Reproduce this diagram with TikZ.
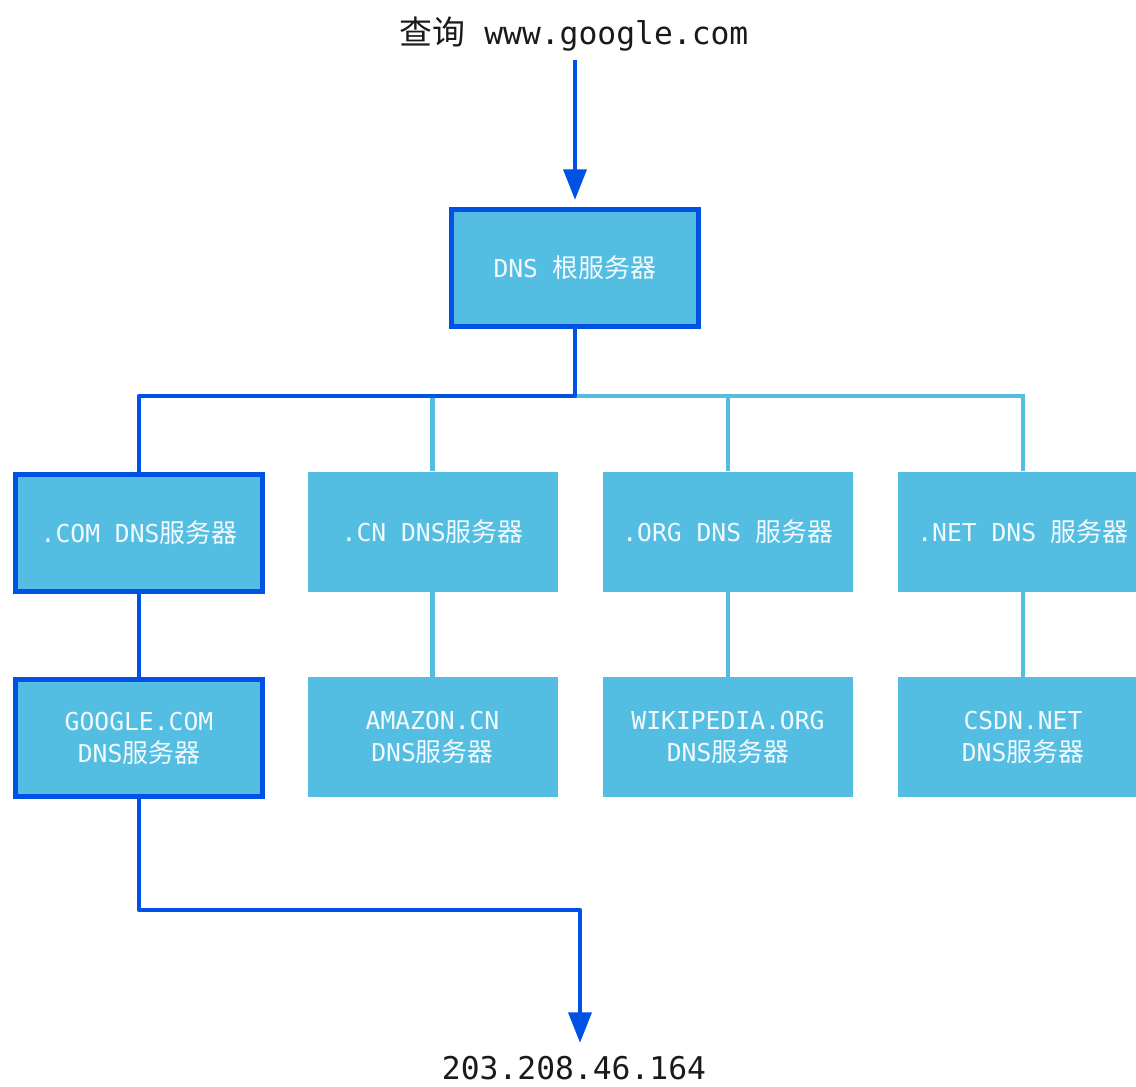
\documentclass[tikz,border=0pt]{standalone}
\usepackage{fontspec}
\setmonofont{DejaVu Sans Mono}
\newfontfamily\cjk[Scale=1.05]{Noto Sans CJK SC}
\usetikzlibrary{arrows.meta}
\definecolor{boxfill}{HTML}{53BDE2}
\definecolor{darkblue}{HTML}{0052E5}
\definecolor{boxtext}{HTML}{F2FAFD}
\definecolor{ink}{HTML}{1A1A1A}
\begin{document}
\begin{tikzpicture}[x=0.75pt,y=-0.75pt,
  lt/.style={draw=boxfill, line width=3.5pt},
  dk/.style={draw=darkblue, line width=3.5pt, line join=round},
  tip/.style={-{Triangle[length=23pt,width=17pt]}},
  box/.style={fill=boxfill, text=boxtext, font=\ttfamily\fontsize{18.5}{24}\selectfont, align=center, minimum width=187.5pt, minimum height=90pt, inner sep=0pt},
  dbox/.style={box, draw=darkblue, line width=4pt, minimum width=185pt, minimum height=88pt},
  plain/.style={text=ink, font=\ttfamily\fontsize{23.5}{28}\selectfont, anchor=base}]
\useasboundingbox[fill=white] (0,0) rectangle (1136,1086);

\node[plain] (query) at (574,44) {{\cjk 查询} www.google.com};
\node[plain] (ip) at (574,1079) {203.208.46.164};

\node[dbox] (root) at (575,268) {DNS {\cjk 根服务器}};
\node[dbox] (com) at (139,533) {.COM DNS{\cjk 服务器}};
\node[box] (cn) at (432.5,531.5) {.CN DNS{\cjk 服务器}};
\node[box] (org) at (728,531.5) {.ORG DNS {\cjk 服务器}};
\node[box] (net) at (1023,531.5) {.NET DNS {\cjk 服务器}};
\node[dbox] (google) at (139,738) {GOOGLE.COM\\DNS{\cjk 服务器}};
\node[box] (amazon) at (432.5,737) {AMAZON.CN\\DNS{\cjk 服务器}};
\node[box] (wiki) at (728,737) {WIKIPEDIA.ORG\\DNS{\cjk 服务器}};
\node[box] (csdn) at (1023,737) {CSDN.NET\\DNS{\cjk 服务器}};

\coordinate (bus) at (575,396);
\coordinate (bend) at (580,910);
\coordinate (ipin) at (580,1043);
\coordinate (qout) at (575,60);

% light connectors
\draw[lt] (bus) -| (net.north);
\draw[lt] (bus -| cn.north) -- (cn.north);
\draw[lt] (bus -| org.north) -- (org.north);
\draw[lt] (cn.south) -- (amazon.north);
\draw[lt] (org.south) -- (wiki.north);
\draw[lt] (net.south) -- (csdn.north);

% highlighted path
\draw[dk,tip,shorten >=5pt] (qout) -- (root.north);
\draw[dk] (root.south) -- (bus) -| (com.north);
\draw[dk] (com.south) -- (google.north);
\draw[dk,tip] (google.south) |- (bend) -- (ipin);
\end{tikzpicture}
\end{document}
